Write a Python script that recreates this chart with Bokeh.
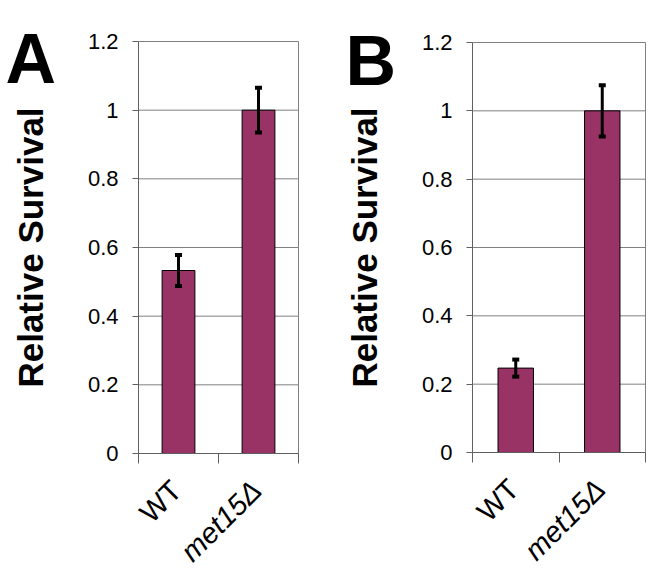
import numpy as np
from bokeh.plotting import figure
from bokeh.layouts import row
from bokeh.models import (ColumnDataSource, Range1d, FixedTicker, NumeralTickFormatter,
                          Whisker, TeeHead, LabelSet, Label, LinearAxis)
from bokeh.core.properties import field, value
from bokeh.embed import file_html
from bokeh.resources import INLINE

categories = ["WT", "met15Δ"]
category_styles = ["normal", "italic"]
survival_a = [0.533, 1.0]
error_a = [0.045, 0.065]
survival_b = [0.247, 1.0]
error_b = [0.025, 0.075]
y_ticks = [0, 0.2, 0.4, 0.6, 0.8, 1.0, 1.2]
panel_letters = ["A", "B"]

BAR = "#993366"
GRID = "#808080"
AXIS = "#606060"
FONT = "Liberation Sans"
Y_MAX = 1.2


def make_panel(values, errors, letter, width, height, plot_box, letter_xy, label_y):
    # plot_box: pixel box (left, right, top, bottom) of the data area inside the canvas
    left, right, top, bottom = plot_box
    n = len(categories)
    ppx = (right - left) / n
    ppy = (bottom - top) / Y_MAX
    x_range = Range1d(-left / ppx, n + (width - right) / ppx)
    y_range = Range1d(-(height - bottom) / ppy, Y_MAX + top / ppy)

    pos = np.arange(n) + 0.5
    src = ColumnDataSource(dict(
        x=pos, top=values,
        upper=[v + e for v, e in zip(values, errors)],
        lower=[v - e for v, e in zip(values, errors)],
        name=categories, style=category_styles,
        ly=[label_y] * n,
    ))
    p = figure(width=width, height=height, output_backend="svg", toolbar_location=None,
               x_range=x_range, y_range=y_range, x_axis_type=None, y_axis_type=None,
               min_border=0)
    p.min_border_left = p.min_border_right = p.min_border_top = p.min_border_bottom = 0
    p.background_fill_color = "white"
    p.border_fill_color = "white"
    p.outline_line_color = None
    p.xgrid.visible = False
    p.ygrid.visible = False

    # horizontal gridlines and the plot-area box
    p.segment(x0=0, x1=n, y0=y_ticks, y1=y_ticks, line_color=GRID, line_width=1)
    p.segment(x0=n, x1=n, y0=0, y1=Y_MAX, line_color=GRID, line_width=1)

    p.vbar(x="x", top="top", width=0.41, source=src, fill_color=BAR, line_color="black", line_width=1)
    w = Whisker(source=src, base="x", upper="upper", lower="lower",
                line_color="black", line_width=3, level="overlay",
                upper_head=TeeHead(size=7, line_width=4, line_color="black"),
                lower_head=TeeHead(size=7, line_width=4, line_color="black"))
    p.add_layout(w)

    # y axis fixed at x=0
    ya = LinearAxis(fixed_location=0, bounds=(0, Y_MAX))
    ya.ticker = FixedTicker(ticks=y_ticks)
    ya.formatter = NumeralTickFormatter(format="0.[0]")
    ya.major_tick_out = 6
    ya.major_tick_in = 0
    ya.minor_tick_line_color = None
    ya.axis_line_color = AXIS
    ya.major_tick_line_color = AXIS
    ya.major_label_text_font = FONT
    ya.major_label_text_font_size = "22px"
    ya.major_label_text_color = "black"
    ya.major_label_standoff = 14
    ya.axis_label = "Relative Survival"
    ya.axis_label_text_font = FONT
    ya.axis_label_text_font_style = "bold"
    ya.axis_label_text_font_size = "35px"
    ya.axis_label_text_color = "black"
    ya.axis_label_standoff = 35
    p.add_layout(ya, "left")

    # x axis fixed at y=0: ticks at category boundaries only
    xa = LinearAxis(fixed_location=0, bounds=(0, n))
    xa.ticker = FixedTicker(ticks=[], minor_ticks=list(range(n + 1)))
    xa.minor_tick_out = 10
    xa.minor_tick_in = 0
    xa.minor_tick_line_color = AXIS
    xa.axis_line_color = AXIS
    p.add_layout(xa, "below")

    labels = LabelSet(x="x", y="ly", text="name", source=src,
                      angle=np.pi / 4, text_align="right", text_baseline="middle",
                      x_offset=-2, text_font=value(FONT), text_font_size=value("29px"),
                      text_font_style=field("style"), text_color="black")
    p.add_layout(labels)

    p.add_layout(Label(x=letter_xy[0], y=height - letter_xy[1], x_units="screen", y_units="screen",
                       text=letter, text_font=FONT, text_font_size="70px", text_font_style="bold",
                       text_color="black", text_baseline="alphabetic", text_align="left"))
    return p


pa = make_panel(survival_a, error_a, panel_letters[0], 333, 580, (138, 298, 41, 453), (5, 58), -0.093)
pb = make_panel(survival_b, error_b, panel_letters[1], 320, 580, (139, 312, 42, 452), (12, 60), -0.093)

layout = row(pa, pb)
open("out.html", "w").write(file_html(layout, INLINE))
